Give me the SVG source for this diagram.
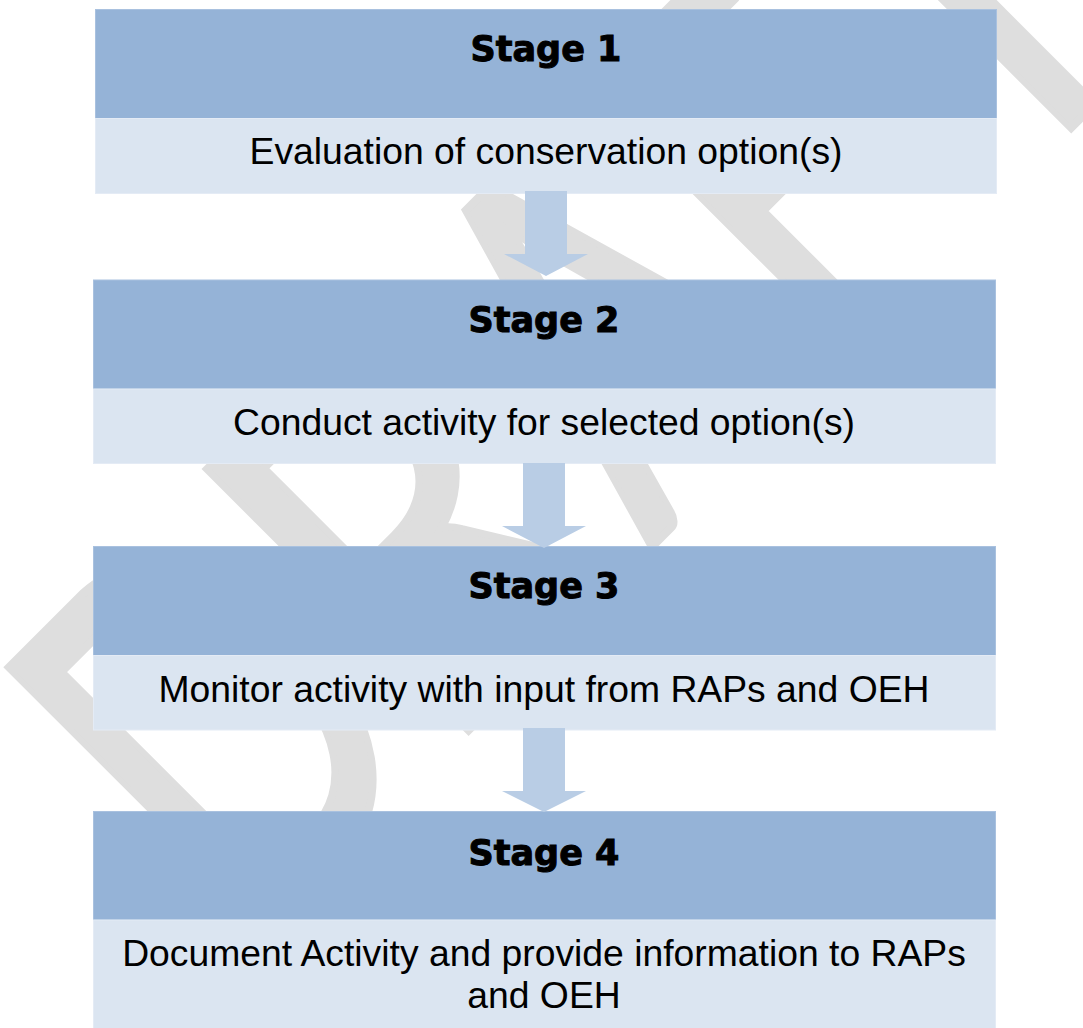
<svg xmlns="http://www.w3.org/2000/svg" width="1083" height="1028" viewBox="0 0 1083 1028">
<style>
.wm{font-family:Lato,"Open Sans","DejaVu Sans",sans-serif;font-size:516px;fill:#dedede;stroke:#dedede;stroke-width:8px}
.hd{fill:#95b3d7;stroke:#a9c1df;stroke-width:1}
.bd{fill:#dbe5f1;stroke:#e4ebf5;stroke-width:1}
.st{font-family:"DejaVu Sans",sans-serif;font-weight:bold;font-size:35px;fill:#000;stroke:#000;stroke-width:1px;text-anchor:middle}
.tx{font-family:"Liberation Sans",Arial,sans-serif;font-size:37.3px;fill:#000;text-anchor:middle}
.ar{fill:#b9cde5}
</style>
<rect width="1083" height="1028" fill="#ffffff"/>
<g id="watermark" transform="translate(270.5,928.5) rotate(-45)">
<text class="wm" transform="scale(0.72,1)" x="-49" y="0">D</text>
<text class="wm" transform="translate(281,0) scale(0.84,1)" x="-49" y="0">R</text>
<text class="wm" transform="translate(541,0) scale(0.72,1)" x="-5" y="0">A</text>
<text class="wm" transform="translate(822,0) scale(0.72,1)" x="-49" y="0">F</text>
<text class="wm" transform="translate(1149,0) scale(0.72,1)" x="0" y="0" text-anchor="middle">T</text>
</g>
<g id="stage1">
<rect class="hd" x="95.5" y="9.5" width="901" height="109"/>
<rect class="bd" x="95.5" y="118.5" width="901" height="75"/>
<text class="st" x="546" y="61.4">Stage 1</text>
<text class="tx" x="546" y="163.5">Evaluation of conservation option(s)</text>
</g>
<g id="stage2">
<rect class="hd" x="93.5" y="280" width="902" height="109"/>
<rect class="bd" x="93.5" y="389" width="902" height="74.5"/>
<text class="st" x="544" y="331.7">Stage 2</text>
<text class="tx" x="544" y="434.5">Conduct activity for selected option(s)</text>
</g>
<g id="stage3">
<rect class="hd" x="93.5" y="546.5" width="902" height="109"/>
<rect class="bd" x="93.5" y="655.5" width="902" height="74.5"/>
<text class="st" x="544" y="598.3">Stage 3</text>
<text class="tx" x="544" y="702">Monitor activity with input from RAPs and OEH</text>
</g>
<g id="stage4">
<rect class="hd" x="93.5" y="811.5" width="902" height="108.5"/>
<rect class="bd" x="93.5" y="920" width="902" height="109"/>
<text class="st" x="544" y="864.6">Stage 4</text>
<text class="tx" x="544" y="965.7">Document Activity and provide information to RAPs</text>
<text class="tx" x="544" y="1008.4">and OEH</text>
</g>
<g id="connectors">
<polygon class="ar" points="525,191 567,191 567,254 588,254 546,276 504,254 525,254"/>
<polygon class="ar" points="523,463 565,463 565,526 586,526 544,548 502,526 523,526"/>
<polygon class="ar" points="523,728 565,728 565,791 586,791 544,812 502,791 523,791"/>
</g>
</svg>
